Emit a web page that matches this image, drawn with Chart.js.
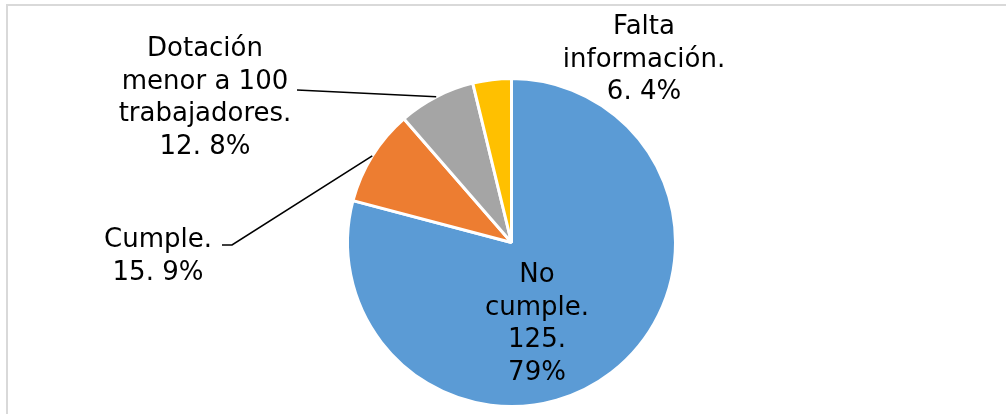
<!DOCTYPE html>
<html>
<head>
<meta charset="utf-8">
<script src="https://cdn.jsdelivr.net/npm/chart.js@4"></script>
<style>
html,body{margin:0;padding:0;background:#fff;}
#wrap{position:relative;width:1006px;height:414px;}
</style>
</head>
<body>
<div id="wrap"><canvas id="c" width="1006" height="414"></canvas></div>
<script>
const categories = ['No cumple', 'Cumple', 'Dotación menor a 100 trabajadores', 'Falta información'];
const values = [125, 15, 12, 6];
const labelLines = [['No', 'cumple.'], ['Cumple.'], ['Dotación', 'menor a 100', 'trabajadores.'], ['Falta', 'información.']];
const colors = ['#5B9BD5', '#ED7D31', '#A5A5A5', '#FFC000'];

const total = values.reduce((a, b) => a + b, 0);
const percents = values.map(v => Math.round(v / total * 100));

// label placement (layout only)
const labelPos = [
  {x: 537, y: 275, lines: [...labelLines[0], values[0] + '.', percents[0] + '%']},
  {x: 158, y: 240, lines: [labelLines[1][0], values[1] + '. ' + percents[1] + '%'], leader: [[222, 245], [232, 245]]},
  {x: 205, y: 49, lines: [...labelLines[2], values[2] + '. ' + percents[2] + '%'], leader: [[297, 90]]},
  {x: 644, y: 27, lines: [...labelLines[3], values[3] + '. ' + percents[3] + '%']}
];

const labelPlugin = {
  id: 'labels',
  beforeDraw(chart) {
    const ctx = chart.ctx;
    ctx.save();
    ctx.strokeStyle = '#D9D9D9';
    ctx.lineWidth = 2;
    ctx.beginPath();
    ctx.moveTo(7, 414);
    ctx.lineTo(7, 5);
    ctx.lineTo(1006, 5);
    ctx.stroke();
    ctx.restore();
  },
  afterDraw(chart) {
    const ctx = chart.ctx;
    const meta = chart.getDatasetMeta(0);
    ctx.save();
    ctx.font = '26px "DejaVu Sans", Verdana, sans-serif';
    ctx.fillStyle = '#000';
    ctx.textAlign = 'center';
    ctx.textBaseline = 'middle';
    labelPos.forEach((lp, i) => {
      lp.lines.forEach((t, k) => ctx.fillText(t, lp.x, lp.y + k * 32.8));
      if (lp.leader) {
        const arc = meta.data[i];
        const mid = (arc.startAngle + arc.endAngle) / 2;
        const ex = arc.x + Math.cos(mid) * arc.outerRadius;
        const ey = arc.y + Math.sin(mid) * arc.outerRadius;
        ctx.strokeStyle = '#000';
        ctx.lineWidth = 1.6;
        ctx.beginPath();
        ctx.moveTo(lp.leader[0][0], lp.leader[0][1]);
        for (let j = 1; j < lp.leader.length; j++) ctx.lineTo(lp.leader[j][0], lp.leader[j][1]);
        ctx.lineTo(ex, ey);
        ctx.stroke();
      }
    });
    ctx.restore();
  }
};

new Chart(document.getElementById('c'), {
  type: 'pie',
  data: {
    labels: categories,
    datasets: [{
      data: values,
      backgroundColor: colors,
      borderColor: '#FFFFFF',
      borderWidth: 3
    }]
  },
  options: {
    responsive: false,
    animation: false,
    layout: {padding: {left: 346, right: 329, top: 77, bottom: 6}},
    plugins: {legend: {display: false}, tooltip: {enabled: false}}
  },
  plugins: [labelPlugin]
});
</script>
</body>
</html>
